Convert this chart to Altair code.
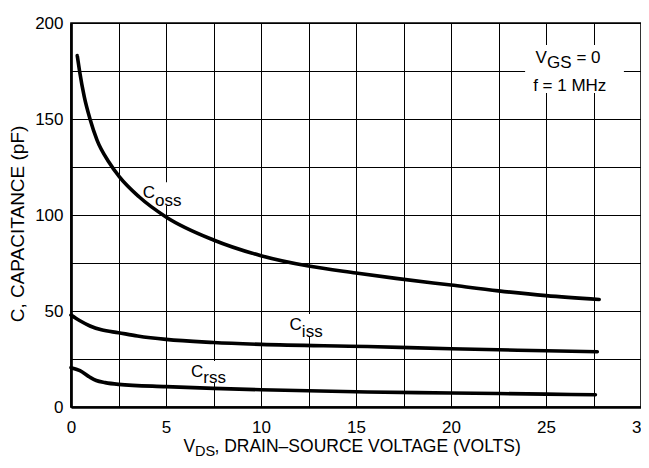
import altair as alt
import pandas as pd

# ---- curve data (V_DS in volts, capacitance in pF) ----
coss_v = [0.33, 0.45, 0.7, 1.0, 1.37, 2.0, 2.54, 3.58, 5.0, 7.5, 10.0, 12.5, 15.0, 17.1, 20.0, 22.5, 25.0, 27.8]
coss_c = [183, 175, 161.5, 150, 139, 127.5, 120, 109.5, 99, 87, 78.8, 73.4, 69.8, 67.0, 63.5, 60.5, 58.0, 56.0]

ciss_v = [0, 0.47, 1.0, 1.6, 2.5, 3.5, 5.0, 7.5, 10.0, 15.6, 20.0, 25.0, 27.7]
ciss_c = [47.9, 44.9, 42.2, 40.2, 38.7, 37.0, 35.2, 33.6, 32.6, 31.5, 30.3, 29.3, 28.8]

crss_v = [0, 0.47, 1.0, 1.33, 1.8, 2.5, 5.0, 7.5, 10.0, 15.6, 20.0, 25.0, 27.6]
crss_c = [20.5, 19.0, 15.5, 13.8, 12.7, 11.8, 10.6, 9.7, 9.0, 7.8, 7.3, 6.7, 6.4]

x_ticks = [0, 2.5, 5, 7.5, 10, 12.5, 15, 17.5, 20, 22.5, 25, 27.5, 30]
y_ticks = [0, 25, 50, 75, 100, 125, 150, 175, 200]

# ---- labels ----
main_text = ["C", "C", "C", "V", "V"]
main_x = [4.42, 12.15, 6.96, 25.05, 6.53]
main_y = [108.9, 40.2, 15.6, 179.0, -23.6]
main_size = [17, 17, 17, 17, 17.5]

sub_text = ["oss", "iss", "rss", "GS", "DS", "= 0", ", DRAIN\u2013SOURCE VOLTAGE (VOLTS)"]
sub_x = [4.42, 12.15, 6.96, 25.05, 6.53, 26.6, 7.55]
sub_y = [104.8, 36.7, 12.5, 176.4, -25.3, 179.0, -23.6]
sub_size = [17, 17, 17, 17, 14.5, 17, 17.5]

center_text = ["f = 1 MHz"]
center_x = [26.25]
center_y = [164.8]

# white boxes behind labels (hide grid lines)
box_x1 = [4.15, 11.4, 6.3, 23.9]
box_x2 = [6.1, 13.4, 8.5, 29.1]
box_y1 = [105.0, 37.0, 12.5, 163.5]
box_y2 = [117.0, 48.5, 24.0, 188.5]

FONT = "Liberation Sans"

curves = pd.concat([
    pd.DataFrame({"v": coss_v, "c": coss_c, "s": "Coss"}),
    pd.DataFrame({"v": ciss_v, "c": ciss_c, "s": "Ciss"}),
    pd.DataFrame({"v": crss_v, "c": crss_c, "s": "Crss"}),
])
main_df = pd.DataFrame({"t": main_text, "x": main_x, "y": main_y, "sz": main_size})
sub_df = pd.DataFrame({"t": sub_text, "x": sub_x, "y": sub_y, "sz": sub_size})
center_df = pd.DataFrame({"t": center_text, "x": center_x, "y": center_y})
box_df = pd.DataFrame({"x1": box_x1, "x2": box_x2, "y1": box_y1, "y2": box_y2})

xscale = alt.Scale(domain=[0, 30], nice=False, zero=False)
yscale = alt.Scale(domain=[0, 200], nice=False)

xaxis = alt.Axis(values=x_ticks, title=None,
                 labelExpr="datum.value % 5 === 0 ? format(datum.value, 'd') : ''",
                 labelPadding=12, labelFlush=False, labelOverlap=False, labelBound=False)
yaxis = alt.Axis(values=y_ticks, title="C, CAPACITANCE (pF)",
                 labelExpr="datum.value % 50 === 0 ? format(datum.value, 'd') : ''",
                 labelPadding=8, labelFlush=False, labelOverlap=False,
                 titleAngle=270, titleX=-53.5, titleY=200.5, titleAlign="center",
                 titleBaseline="middle", titleFontSize=19)

boxes = alt.Chart(box_df).mark_rect(color="white").encode(
    x=alt.X("x1:Q", scale=xscale, axis=xaxis),
    x2="x2:Q",
    y=alt.Y("y1:Q", scale=yscale, axis=yaxis),
    y2="y2:Q",
)

lines = alt.Chart(curves).mark_line(color="black", strokeWidth=3.6, interpolate="monotone",
                                    strokeCap="round").encode(
    x=alt.X("v:Q", scale=xscale),
    y=alt.Y("c:Q", scale=yscale),
    detail="s:N",
)

main_lbl = alt.Chart(main_df).mark_text(align="right", baseline="alphabetic", font=FONT,
                                        color="black").encode(
    x=alt.X("x:Q", scale=xscale), y=alt.Y("y:Q", scale=yscale), text="t:N",
    size=alt.Size("sz:Q", scale=None),
)
sub_lbl = alt.Chart(sub_df).mark_text(align="left", baseline="alphabetic", font=FONT,
                                      color="black").encode(
    x=alt.X("x:Q", scale=xscale), y=alt.Y("y:Q", scale=yscale), text="t:N",
    size=alt.Size("sz:Q", scale=None),
)
center_lbl = alt.Chart(center_df).mark_text(align="center", baseline="alphabetic", font=FONT,
                                            fontSize=17, color="black").encode(
    x=alt.X("x:Q", scale=xscale), y=alt.Y("y:Q", scale=yscale), text="t:N",
)

chart = alt.layer(boxes, lines, main_lbl, sub_lbl, center_lbl).properties(
    width=570, height=384,
    autosize=alt.AutoSizeParams(type="none"),
    padding={"left": 63, "top": 15, "right": 0, "bottom": 52},
    background="white",
).configure_view(
    stroke="black", strokeWidth=1.6,
).configure_axis(
    grid=True, gridColor="black", gridWidth=1, gridOpacity=1,
    domainColor="black", domainWidth=2.7,
    ticks=False,
    labelFont=FONT, labelFontSize=17, labelColor="black",
    titleFont=FONT, titleFontWeight="normal", titleColor="black",
)

chart.save("out.html", embed_options={"renderer": "svg", "actions": False})
